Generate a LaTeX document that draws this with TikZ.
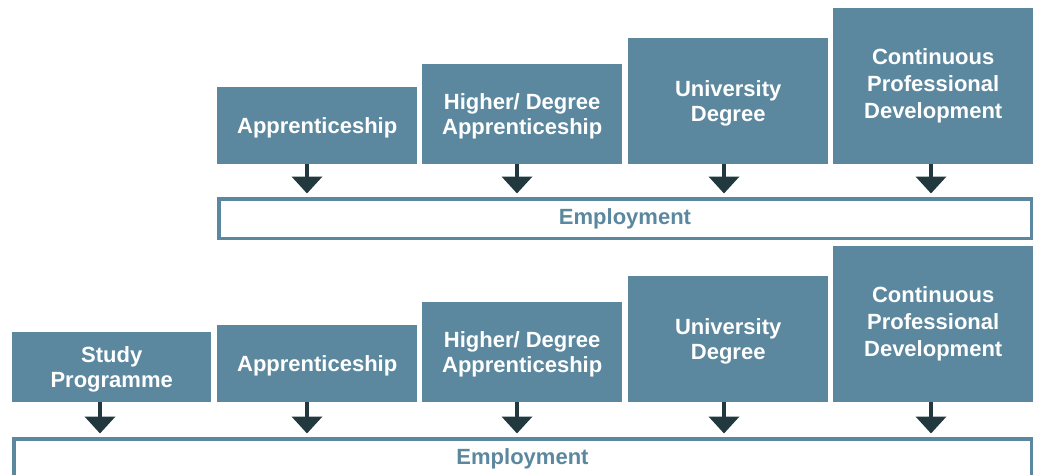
\documentclass[tikz,border=0pt]{standalone}
\usepackage{fontspec}
\setmainfont{Liberation Sans}
\usetikzlibrary{arrows.meta}

\definecolor{stageblue}{RGB}{91,136,159}
\definecolor{arrowdark}{RGB}{33,56,62}

\tikzset{
    stage/.style={fill=stageblue, text=white, anchor=south west, minimum width=200pt,
        inner sep=0pt, align=center, text depth=0pt, font=\bfseries\fontsize{22}{25}\selectfont},
    tallstage/.style={stage, text depth=, font=\bfseries\fontsize{22}{27}\selectfont},
    employ/.style={draw=stageblue, line width=3.5pt, fill=white, text=stageblue,
        inner sep=0pt, font=\bfseries\fontsize{22}{25}\selectfont},
    flow/.style={arrowdark, line width=4pt, -{Triangle[width=30pt,length=17pt]},
        shorten >=3.5pt}
}

\begin{document}
\begin{tikzpicture}[x=1pt,y=-1pt]
        % \draw[help lines] (0,0) grid (1038,474);
        \clip (0,0) rectangle (1038,474);

        % upper route
        \node[stage, minimum height=77pt] at (217,164) (ta) {Apprenticeship};
        \node[stage, minimum height=100pt] at (422,164) (th) {Higher/ Degree\\Apprenticeship};
        \node[stage, minimum height=126pt] at (628,164) (tu) {University\\Degree};
        \node[tallstage, minimum height=156pt] at (833,164) (tc) {Continuous\\Professional\\Development};
        \node[employ, minimum width=812.5pt, minimum height=39.5pt] at (625,218.5) (te) {Employment};

        % lower route
        \node[stage, minimum height=70pt, minimum width=199pt] at (12,402) (bs) {Study\\Programme};
        \node[stage, minimum height=77pt] at (217,402) (ba) {Apprenticeship};
        \node[stage, minimum height=100pt] at (422,402) (bh) {Higher/ Degree\\Apprenticeship};
        \node[stage, minimum height=126pt] at (628,402) (bu) {University\\Degree};
        \node[tallstage, minimum height=156pt] at (833,402) (bc) {Continuous\\Professional\\Development};
        \node[employ, minimum width=1017.5pt, minimum height=39.5pt] at (522.5,458.5) (be) {Employment};

        \path[flow]
        (307,0 |- ta.south) edge (307,0 |- te.north)
        (517,0 |- th.south) edge (517,0 |- te.north)
        (724,0 |- tu.south) edge (724,0 |- te.north)
        (931,0 |- tc.south) edge (931,0 |- te.north)

        (100,0 |- bs.south) edge (100,0 |- be.north)
        (307,0 |- ba.south) edge (307,0 |- be.north)
        (517,0 |- bh.south) edge (517,0 |- be.north)
        (724,0 |- bu.south) edge (724,0 |- be.north)
        (931,0 |- bc.south) edge (931,0 |- be.north);

    \end{tikzpicture}
\end{document}
